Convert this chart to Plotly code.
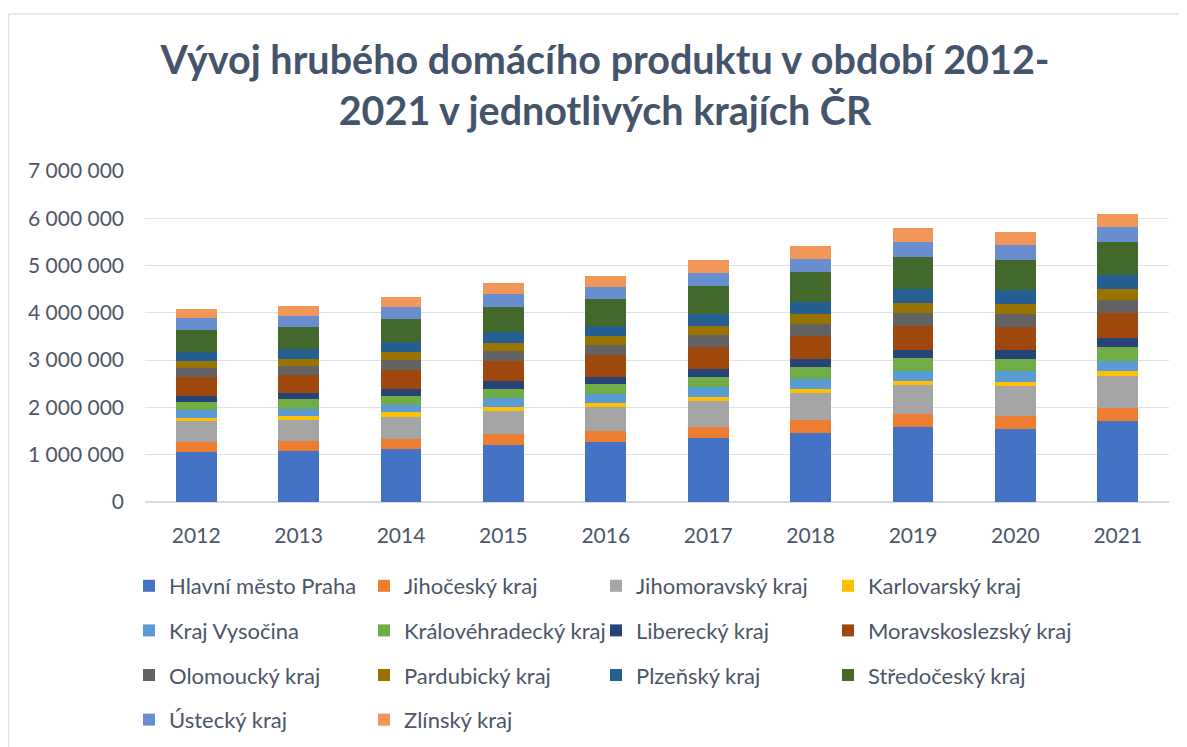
import plotly.graph_objects as go

years = ["2012", "2013", "2014", "2015", "2016", "2017", "2018", "2019", "2020", "2021"]

praha = [1056000, 1085000, 1120000, 1211000, 1275000, 1359000, 1465000, 1577000, 1542000, 1711000]
jihocesky = [204000, 204000, 218000, 232000, 232000, 232000, 275000, 282000, 282000, 282000]
jihomoravsky = [444000, 451000, 465000, 486000, 500000, 535000, 563000, 613000, 634000, 662000]
karlovarsky = [77000, 85000, 92000, 85000, 85000, 92000, 92000, 92000, 85000, 106000]
vysocina = [155000, 148000, 162000, 176000, 183000, 204000, 204000, 211000, 225000, 225000]
kralovehradecky = [176000, 197000, 190000, 204000, 218000, 225000, 246000, 268000, 261000, 296000]
liberecky = [134000, 134000, 134000, 155000, 148000, 162000, 169000, 176000, 176000, 190000]
moravskoslezsky = [401000, 373000, 415000, 437000, 458000, 472000, 500000, 507000, 500000, 528000]
olomoucky = [183000, 197000, 211000, 204000, 211000, 246000, 254000, 275000, 261000, 282000]
pardubicky = [155000, 155000, 155000, 176000, 197000, 197000, 211000, 211000, 225000, 225000]
plzensky = [190000, 211000, 218000, 232000, 225000, 254000, 254000, 296000, 289000, 296000]
stredocesky = [465000, 458000, 486000, 528000, 556000, 592000, 627000, 669000, 648000, 697000]
ustecky = [246000, 246000, 254000, 275000, 268000, 282000, 275000, 331000, 303000, 317000]
zlinsky = [197000, 197000, 225000, 225000, 232000, 261000, 275000, 282000, 275000, 282000]

series_names = [
    "Hlavní město Praha", "Jihočeský kraj", "Jihomoravský kraj", "Karlovarský kraj",
    "Kraj Vysočina", "Královéhradecký kraj", "Liberecký kraj", "Moravskoslezský kraj",
    "Olomoucký kraj", "Pardubický kraj", "Plzeňský kraj", "Středočeský kraj",
    "Ústecký kraj", "Zlínský kraj",
]
series_values = [
    praha, jihocesky, jihomoravsky, karlovarsky, vysocina, kralovehradecky, liberecky,
    moravskoslezsky, olomoucky, pardubicky, plzensky, stredocesky, ustecky, zlinsky,
]
colors = [
    "#4472C4", "#ED7D31", "#A5A5A5", "#FFC000", "#5B9BD5", "#70AD47", "#264478",
    "#9E480E", "#636363", "#997300", "#255E91", "#43682B", "#698ED0", "#F1975A",
]

y_tickvals = [0, 1000000, 2000000, 3000000, 4000000, 5000000, 6000000, 7000000]
y_ticktext = ["0", "1 000 000", "2 000 000", "3 000 000", "4 000 000", "5 000 000",
              "6 000 000", "7 000 000"]

title_text = "Vývoj hrubého domácího produktu v období 2012-<br>2021 v jednotlivých krajích ČR"

FONT = "Lato"
TXT = "#4C5667"

OFF = 8  # page body margin
W, H = 1179, 739
ML, MR, MT, MB = 137, 18, 163, 245
PW, PH = W - ML - MR, H - MT - MB


def fx(xs):
    return (xs - OFF - ML) / PW


def fy(ys):
    return (H - MB - (ys - OFF)) / PH


# legend column for each series (4 columns, filled row by row)
legend_ids = ["legend", "legend2", "legend3", "legend4"] * 4
legend_ids = legend_ids[:len(series_names)]

fig = go.Figure()
for name, vals, col, lg in zip(series_names, series_values, colors, legend_ids):
    fig.add_trace(go.Bar(
        x=years, y=vals, name=name, legend=lg, legendgroup=name,
        marker=dict(color=col, line=dict(width=0)),
    ))

col_x = [129, 364, 596, 828]
legend_common = dict(
    orientation="v", xanchor="left", yanchor="top",
    y=fy(565), tracegroupgap=13,
    font=dict(family=FONT, size=22, color=TXT),
    bgcolor="rgba(0,0,0,0)", traceorder="grouped",
)

fig.update_layout(
    width=W, height=H,
    margin=dict(l=ML, r=MR, t=MT, b=MB, autoexpand=False),
    paper_bgcolor="white", plot_bgcolor="white",
    barmode="stack", bargap=0.6,
    title=dict(
        text=title_text, x=597 / W, xanchor="center", xref="container",
        y=1 - 66 / H, yanchor="top",
        font=dict(family=FONT, size=39.5, color="#44546A", weight="bold"),
    ),
    xaxis=dict(
        showgrid=False, showline=False, zeroline=False, ticks="",
        tickfont=dict(family=FONT, size=21, color=TXT), ticklabelstandoff=19,
    ),
    yaxis=dict(
        range=[0, 7000000], tickvals=y_tickvals, ticktext=y_ticktext,
        showgrid=True, gridcolor="#DDE2E8", gridwidth=1.3,
        zeroline=True, zerolinecolor="#D6DCE4", zerolinewidth=1.5,
        showline=False, ticks="",
        tickfont=dict(family=FONT, size=21, color=TXT), ticklabelstandoff=20,
    ),
    legend=dict(legend_common, x=fx(col_x[0])),
    legend2=dict(legend_common, x=fx(col_x[1])),
    legend3=dict(legend_common, x=fx(col_x[2])),
    legend4=dict(legend_common, x=fx(col_x[3])),
    showlegend=True,
    shapes=[
        dict(type="line", xref="paper", yref="paper", x0=fx(8.5), x1=fx(8.5),
             y0=fy(14), y1=fy(800), line=dict(color="#DEE3EB", width=1.5)),
        dict(type="line", xref="paper", yref="paper", x0=fx(8.5), x1=fx(1250),
             y0=fy(14), y1=fy(14), line=dict(color="#DEE3EB", width=1.5)),
    ],
)

fig.write_html("out.html")
